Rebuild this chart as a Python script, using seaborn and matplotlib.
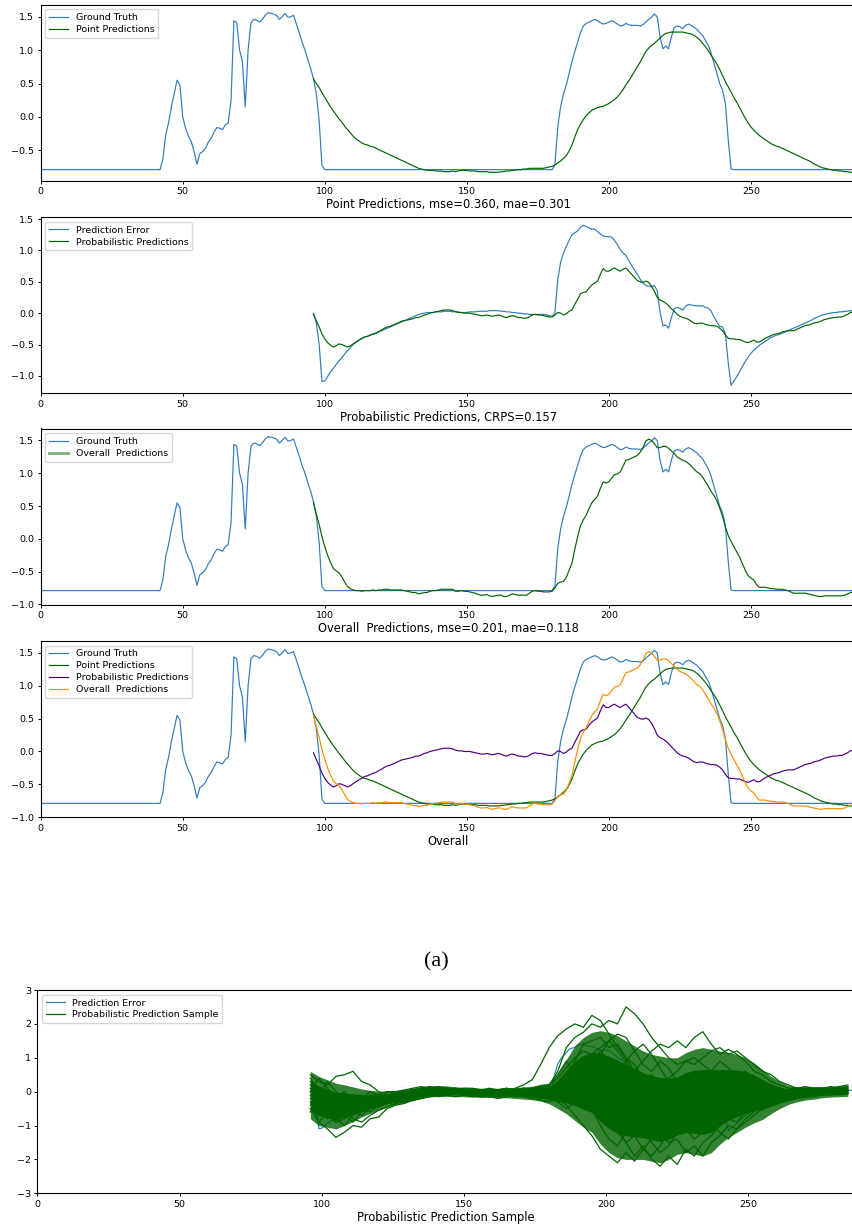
import numpy as np
import pandas as pd
import matplotlib
matplotlib.use("Agg")
import matplotlib.pyplot as plt
import seaborn as sns

# time axis
t_all = np.arange(288)
t_pred = np.arange(96, 288)

# ground truth
ground_truth = ([-0.79] * 43 +
    [-0.63, -0.27, -0.09, 0.15, 0.35, 0.55, 0.48, 0.00, -0.17, -0.29,
     -0.37, -0.52, -0.71, -0.55, -0.52, -0.47, -0.38, -0.32, -0.23, -0.16,
     -0.17, -0.19, -0.12, -0.09, 0.25, 1.44, 1.41, 1.00, 0.83, 0.15,
     1.00, 1.41, 1.46, 1.45, 1.42, 1.46, 1.52, 1.56, 1.55, 1.54,
     1.52, 1.46, 1.50, 1.55, 1.49, 1.50, 1.52, 1.39, 1.26, 1.12,
     1.00, 0.86, 0.73, 0.57, 0.35, -0.05, -0.73, -0.79] +
    [-0.79] * 80 +
    [-0.72, -0.15, 0.15, 0.34, 0.48, 0.65, 0.83, 0.98, 1.12, 1.26,
     1.36, 1.40, 1.42, 1.44, 1.46, 1.44, 1.41, 1.39, 1.40, 1.42,
     1.44, 1.42, 1.39, 1.36, 1.37, 1.40, 1.38, 1.37, 1.37, 1.37,
     1.36, 1.38, 1.42, 1.46, 1.49, 1.54, 1.50, 1.20, 1.02, 1.06,
     1.02, 1.20, 1.34, 1.36, 1.35, 1.32, 1.37, 1.39, 1.37, 1.34,
     1.31, 1.26, 1.22, 1.14, 1.07, 0.95, 0.80, 0.65, 0.50, 0.40,
     0.20, -0.34, -0.78] +
    [-0.79] * 44)

# point predictions, t = 96..287
point_pred = [
    0.57, 0.50, 0.44, 0.36, 0.29, 0.22, 0.15, 0.09, 0.03, -0.03,
    -0.08, -0.14, -0.19, -0.24, -0.29, -0.33, -0.36, -0.39, -0.41, -0.42,
    -0.44, -0.45, -0.47, -0.49, -0.51, -0.53, -0.55, -0.57, -0.59, -0.61,
    -0.63, -0.65, -0.67, -0.69, -0.71, -0.73, -0.75, -0.77, -0.78, -0.79,
    -0.80, -0.80, -0.80, -0.81, -0.81, -0.81, -0.82, -0.82, -0.82, -0.81,
    -0.82, -0.81, -0.80, -0.80, -0.80, -0.81, -0.81, -0.81, -0.82, -0.82,
    -0.82, -0.82, -0.83, -0.83, -0.83, -0.83, -0.82, -0.82, -0.81, -0.81,
    -0.80, -0.80, -0.79, -0.79, -0.78, -0.78, -0.77, -0.77, -0.77, -0.77,
    -0.77, -0.77, -0.76, -0.75, -0.74, -0.72, -0.69, -0.66, -0.62, -0.58,
    -0.51, -0.42, -0.30, -0.19, -0.11, -0.04, 0.02, 0.06, 0.10, 0.12,
    0.14, 0.15, 0.16, 0.18, 0.20, 0.23, 0.26, 0.30, 0.35, 0.41,
    0.48, 0.54, 0.61, 0.68, 0.75, 0.82, 0.90, 0.98, 1.03, 1.07,
    1.10, 1.14, 1.18, 1.22, 1.25, 1.26, 1.27, 1.27, 1.27, 1.27,
    1.27, 1.26, 1.25, 1.24, 1.22, 1.19, 1.15, 1.10, 1.05, 0.99,
    0.92, 0.86, 0.79, 0.71, 0.62, 0.53, 0.45, 0.37, 0.29, 0.22,
    0.14, 0.06, -0.02, -0.09, -0.15, -0.20, -0.24, -0.28, -0.31, -0.34,
    -0.37, -0.40, -0.42, -0.44, -0.45, -0.47, -0.49, -0.51, -0.53, -0.55,
    -0.57, -0.59, -0.61, -0.63, -0.65, -0.67, -0.70, -0.72, -0.74, -0.76,
    -0.77, -0.78, -0.79, -0.80, -0.80, -0.81, -0.81, -0.82, -0.82, -0.83,
    -0.83, -0.84]

# probabilistic predictions of the error, t = 96..287
prob_pred = [
    -0.02, -0.12, -0.22, -0.33, -0.41, -0.47, -0.51, -0.54, -0.52, -0.49,
    -0.50, -0.52, -0.54, -0.52, -0.49, -0.46, -0.43, -0.41, -0.38, -0.37,
    -0.35, -0.33, -0.32, -0.29, -0.27, -0.24, -0.22, -0.21, -0.19, -0.17,
    -0.15, -0.13, -0.12, -0.11, -0.10, -0.09, -0.07, -0.07, -0.05, -0.03,
    -0.02, 0.00, 0.01, 0.02, 0.03, 0.04, 0.05, 0.05, 0.05, 0.04,
    0.02, 0.01, 0.01, 0.00, 0.00, 0.00, -0.01, -0.02, -0.03, -0.04,
    -0.04, -0.03, -0.04, -0.05, -0.04, -0.03, -0.04, -0.06, -0.07, -0.05,
    -0.04, -0.05, -0.07, -0.07, -0.08, -0.08, -0.06, -0.03, -0.02, -0.03,
    -0.03, -0.04, -0.05, -0.06, -0.06, -0.03, 0.01, 0.00, -0.03, -0.01,
    0.03, 0.05, 0.14, 0.22, 0.31, 0.33, 0.34, 0.40, 0.45, 0.48,
    0.51, 0.62, 0.71, 0.67, 0.67, 0.70, 0.72, 0.69, 0.67, 0.70,
    0.72, 0.67, 0.62, 0.57, 0.52, 0.50, 0.49, 0.51, 0.49, 0.43,
    0.35, 0.25, 0.21, 0.19, 0.16, 0.12, 0.07, 0.03, -0.02, -0.05,
    -0.07, -0.08, -0.10, -0.13, -0.16, -0.17, -0.16, -0.16, -0.18, -0.19,
    -0.20, -0.20, -0.21, -0.24, -0.28, -0.35, -0.40, -0.41, -0.41, -0.42,
    -0.42, -0.44, -0.46, -0.47, -0.45, -0.43, -0.46, -0.46, -0.43, -0.40,
    -0.38, -0.36, -0.34, -0.33, -0.32, -0.30, -0.29, -0.28, -0.28, -0.28,
    -0.26, -0.24, -0.22, -0.20, -0.19, -0.18, -0.16, -0.15, -0.14, -0.12,
    -0.10, -0.09, -0.08, -0.07, -0.07, -0.06, -0.06, -0.04, -0.02, 0.01,
    0.02, 0.03]

# probabilistic samples, t = 96, 99, ..., 285
sample_t = np.arange(96, 286, 3)
band_lo = [
    -0.80, -1.00, -1.05, -1.10, -1.00, -0.88, -0.75, -0.64, -0.55, -0.45,
    -0.38, -0.32, -0.27, -0.20, -0.16, -0.14, -0.14, -0.15, -0.15, -0.16,
    -0.17, -0.17, -0.18, -0.18, -0.20, -0.22, -0.24, -0.28, -0.36, -0.50,
    -0.65, -0.85, -1.05, -1.20, -1.55, -1.80, -1.95, -2.00, -2.00, -2.00,
    -2.05, -2.10, -2.00, -1.85, -1.80, -1.85, -1.90, -1.80, -1.55, -1.35,
    -1.20, -1.05, -0.92, -0.82, -0.65, -0.50, -0.38, -0.30, -0.25, -0.22,
    -0.18, -0.16, -0.15, -0.14]
band_hi = [
    0.60, 0.45, 0.35, 0.25, 0.20, 0.14, 0.08, 0.04, 0.02, 0.02,
    0.03, 0.06, 0.10, 0.15, 0.17, 0.18, 0.17, 0.14, 0.13, 0.12,
    0.10, 0.10, 0.10, 0.12, 0.12, 0.14, 0.16, 0.22, 0.25, 0.55,
    0.95, 1.35, 1.60, 1.75, 1.80, 1.75, 1.65, 1.50, 1.35, 1.20,
    1.10, 1.05, 1.00, 1.00, 1.15, 1.25, 1.30, 1.25, 1.20, 1.15,
    1.10, 1.00, 0.85, 0.65, 0.45, 0.30, 0.18, 0.15, 0.15, 0.15,
    0.15, 0.15, 0.17, 0.18]

sample_01 = [0.2, -0.1, 0.3, 0.0, -0.2, -0.1, -0.2, -0.1, -0.1, 0.0,
             -0.05, 0.0, 0.05, 0.1, 0.05, 0.1, 0.05, 0.0, 0.05, 0.0,
             -0.05, 0.0, -0.05, 0.0, 0.05, 0.0, 0.1, 0.15, 0.2, 0.6,
             1.3, 1.6, 1.75, 2.0, 1.9, 2.1, 2.0, 2.5, 2.3, 2.0,
             1.6, 1.3, 1.0, 0.8, 0.9, 1.0, 0.8, 0.6, 0.5, 0.4,
             0.3, 0.2, 0.1, 0.1, 0.05, 0.0, -0.05, 0.0, 0.05, 0.0,
             0.05, 0.1, 0.05, 0.1]
sample_02 = [-0.2, -0.5, -0.8, -0.6, -0.4, -0.5, -0.3, -0.35, -0.2, -0.25,
             -0.15, -0.1, -0.05, 0.0, 0.05, 0.1, 0.05, 0.05, 0.0, -0.05,
             -0.05, 0.0, 0.05, 0.0, 0.1, 0.2, 0.35, 0.8, 1.3, 1.65,
             1.85, 2.0, 1.9, 2.25, 2.1, 1.7, 1.3, 1.0, 0.6, 0.3,
             0.0, -0.3, -0.5, -0.3, -0.1, 0.1, 0.2, 0.1, -0.1, -0.2,
             -0.3, -0.2, -0.15, -0.1, -0.05, 0.0, 0.05, 0.0, -0.05, 0.0,
             0.0, 0.05, 0.1, 0.05]
sample_03 = [-0.3, -0.9, -1.1, -1.35, -1.2, -1.0, -1.05, -0.8, -0.75, -0.5,
             -0.4, -0.35, -0.25, -0.2, -0.1, -0.12, -0.1, -0.08, -0.1, -0.12,
             -0.15, -0.1, -0.12, -0.1, -0.15, -0.12, -0.1, -0.05, 0.0, 0.1,
             0.3, 0.5, 0.6, 0.3, -0.2, -0.7, -1.2, -1.5, -1.9, -1.6,
             -2.0, -2.2, -1.9, -2.15, -1.7, -1.9, -1.5, -1.3, -1.0, -0.8,
             -0.7, -0.6, -0.55, -0.4, -0.3, -0.2, -0.1, -0.05, -0.05, 0.0,
             -0.05, 0.0, 0.05, 0.0]
sample_04 = [0.5, 0.3, 0.2, 0.45, 0.5, 0.6, 0.3, 0.2, 0.0, -0.1,
             -0.15, -0.1, -0.05, 0.05, 0.1, 0.1, 0.05, 0.0, 0.0, 0.05,
             0.0, -0.05, 0.0, 0.05, 0.0, 0.05, 0.1, 0.1, 0.15, 0.1,
             0.0, -0.2, -0.4, -0.6, -0.8, -0.5, -0.2, 0.2, 0.6, 0.9,
             1.2, 1.4, 1.3, 1.5, 1.3, 1.6, 1.77, 1.4, 1.1, 1.25,
             1.1, 0.9, 0.6, 0.5, 0.3, 0.2, 0.1, 0.05, 0.1, 0.05,
             0.1, 0.05, 0.1, 0.15]
sample_05 = [-0.1, -0.6, -0.7, -0.9, -0.8, -0.6, -0.7, -0.5, -0.45, -0.35,
             -0.3, -0.25, -0.2, -0.1, -0.05, -0.05, 0.0, -0.05, -0.1, -0.05,
             -0.1, -0.05, -0.1, -0.12, -0.1, -0.15, -0.2, -0.25, -0.3, -0.2,
             -0.4, -0.7, -1.0, -1.3, -1.7, -1.9, -2.1, -1.8, -2.05, -1.7,
             -1.4, -1.0, -0.6, -0.3, -0.5, -0.7, -0.9, -1.2, -1.0, -0.8,
             -0.9, -0.6, -0.5, -0.35, -0.25, -0.3, -0.2, -0.15, -0.1, -0.1,
             -0.05, -0.1, 0.0, -0.05]
sample_06 = [0.3, 0.1, -0.2, -0.3, -0.2, -0.4, -0.3, -0.2, -0.25, -0.15,
             -0.1, -0.05, 0.0, 0.05, 0.1, 0.05, 0.1, 0.05, 0.05, 0.0,
             0.0, 0.05, 0.0, 0.0, -0.05, 0.0, 0.05, 0.15, 0.2, 0.4,
             0.7, 1.0, 1.2, 1.1, 1.3, 1.5, 1.2, 0.9, 0.5, 0.3,
             0.1, 0.2, 0.4, 0.6, 0.9, 0.8, 1.0, 1.2, 1.3, 1.1,
             1.2, 1.0, 0.8, 0.6, 0.5, 0.3, 0.2, 0.1, 0.15, 0.1,
             0.05, 0.1, 0.15, 0.2]
sample_07 = [-0.4, -0.2, 0.0, -0.4, -0.7, -0.9, -0.6, -0.5, -0.3, -0.35,
             -0.2, -0.15, -0.1, -0.05, -0.1, -0.05, -0.05, 0.0, -0.05, -0.1,
             -0.1, -0.15, -0.1, -0.05, -0.1, -0.05, -0.15, -0.1, -0.2, -0.1,
             0.2, 0.5, 0.8, 0.9, 0.6, 0.2, -0.3, -0.6, -0.9, -1.1,
             -0.8, -1.2, -1.5, -1.4, -1.8, -1.6, -1.9, -1.5, -1.3, -1.0,
             -1.1, -0.9, -0.7, -0.5, -0.4, -0.25, -0.2, -0.1, -0.15, -0.1,
             -0.1, -0.05, -0.1, -0.05]
sample_08 = [0.1, -0.3, -0.5, -0.2, 0.0, -0.3, -0.5, -0.3, -0.2, -0.1,
             -0.05, -0.1, 0.0, 0.1, 0.15, 0.1, 0.05, 0.1, 0.05, 0.0,
             0.05, 0.0, 0.05, 0.1, 0.05, 0.1, 0.05, 0.0, 0.1, 0.2,
             0.5, 0.9, 1.4, 1.5, 1.6, 1.3, 1.4, 1.0, 0.8, 0.4,
             0.5, 0.2, 0.0, 0.3, 0.5, 0.2, -0.2, -0.5, -0.8, -0.6,
             -0.4, -0.6, -0.3, -0.2, -0.1, -0.05, 0.0, 0.05, 0.0, 0.05,
             0.0, 0.05, 0.0, 0.1]
sample_09 = [-0.5, -0.9, -0.6, -0.8, -1.0, -0.7, -0.5, -0.6, -0.4, -0.3,
             -0.25, -0.3, -0.2, -0.15, -0.1, -0.15, -0.1, -0.05, -0.1, -0.15,
             -0.1, -0.15, -0.2, -0.15, -0.1, -0.15, -0.1, -0.2, -0.15, -0.3,
             -0.5, -0.3, 0.2, 0.6, 1.1, 1.5, 1.7, 1.6, 1.2, 0.8,
             0.6, 0.9, 0.7, 0.3, -0.1, -0.4, -0.2, 0.2, 0.4, 0.0,
             -0.3, -0.5, -0.4, -0.3, -0.2, -0.1, -0.15, -0.1, -0.05, -0.1,
             -0.05, 0.0, -0.05, 0.0]
sample_10 = [0.0, 0.4, 0.1, -0.2, -0.5, -0.3, -0.1, -0.3, -0.15, -0.2,
             -0.1, 0.0, 0.05, 0.0, 0.1, 0.05, 0.1, 0.1, 0.05, 0.05,
             0.0, 0.05, 0.05, 0.0, 0.05, 0.1, 0.0, 0.05, 0.2, 0.5,
             0.9, 0.5, 0.0, -0.5, -1.0, -1.4, -1.6, -1.2, -0.8, -1.2,
             -1.5, -1.8, -1.6, -1.2, -0.8, -0.4, -0.6, -0.9, -1.2, -1.4,
             -1.1, -0.8, -0.6, -0.4, -0.35, -0.2, -0.1, -0.05, 0.0, -0.05,
             0.0, 0.05, 0.1, 0.05]
sample_11 = [-0.6, -0.1, -0.4, -0.6, -0.3, -0.1, -0.2, 0.0, -0.1, 0.0,
             0.0, 0.05, 0.1, 0.15, 0.1, 0.15, 0.1, 0.05, 0.1, 0.1,
             0.05, 0.1, 0.05, 0.1, 0.05, 0.0, 0.05, 0.1, 0.0, -0.1,
             -0.2, 0.1, 0.4, 0.8, 1.2, 0.9, 0.6, 0.9, 1.2, 1.4,
             1.1, 0.7, 0.3, 0.0, -0.3, -0.1, 0.3, 0.6, 0.9, 0.7,
             0.5, 0.6, 0.4, 0.2, 0.1, 0.0, 0.05, 0.1, 0.05, 0.1,
             0.1, 0.15, 0.1, 0.15]
sample_12 = [0.4, 0.0, -0.6, -0.9, -0.6, -0.8, -0.9, -0.7, -0.55, -0.45,
             -0.35, -0.3, -0.25, -0.2, -0.15, -0.1, -0.1, -0.15, -0.1, -0.1,
             -0.15, -0.1, -0.15, -0.1, -0.05, -0.1, -0.15, -0.2, -0.1, 0.0,
             0.3, 0.7, 0.4, 0.0, -0.4, -0.8, -1.1, -1.5, -1.3, -1.7,
             -1.9, -1.6, -1.2, -0.9, -1.1, -1.4, -1.2, -0.8, -0.5, -0.7,
             -0.5, -0.3, -0.2, -0.3, -0.2, -0.1, -0.05, -0.1, 0.0, -0.05,
             0.0, -0.05, 0.05, 0.0]

samples = [sample_01, sample_02, sample_03, sample_04, sample_05, sample_06,
           sample_07, sample_08, sample_09, sample_10, sample_11, sample_12]

gt = np.array(ground_truth)
pp = np.array(point_pred)
pr = np.array(prob_pred)
err = gt[96:] - pp          # prediction error of the point model
overall = pp + pr           # point + probabilistic

BLUE = "#2f7bbf"
GREEN = "darkgreen"
PURPLE = "indigo"
ORANGE = "darkorange"
LW = 0.85
TICK_FS = 6.8
LABEL_FS = 8.3

W, H = 852, 1230
fig = plt.figure(figsize=(W / 100, H / 100), dpi=100)


def make_ax(left, top, bottom, unit_px):
    # pixel box -> figure fraction; axes run a bit past the right edge
    width = 287 * unit_px
    return fig.add_axes([left / W, 1 - bottom / H, width / W, (bottom - top) / H])


def style(ax, xlabel, handles=None, labels=None):
    ax.set_xlim(0, 287)
    ax.set_xlabel(xlabel, fontsize=LABEL_FS, labelpad=1.5)
    ax.tick_params(labelsize=TICK_FS, length=2.4, pad=2.2, width=0.7)
    for s in ax.spines.values():
        s.set_linewidth(0.8)
    if handles is None:
        handles, labels = ax.get_legend_handles_labels()
    leg = ax.legend(handles, labels, loc="upper left", fontsize=TICK_FS,
                    handlelength=2.0, borderpad=0.4, labelspacing=0.3)
    return leg


# (1) point predictions
ax1 = make_ax(40.7, 4.7, 181.0, 2.841)
sns.lineplot(x=t_all, y=gt, ax=ax1, color=BLUE, lw=LW, label="Ground Truth")
sns.lineplot(x=t_pred, y=pp, ax=ax1, color=GREEN, lw=LW, label="Point Predictions")
style(ax1, "Point Predictions, mse=0.360, mae=0.301")

# (2) probabilistic predictions of the error
ax2 = make_ax(40.7, 217.3, 393.3, 2.841)
sns.lineplot(x=t_pred, y=err, ax=ax2, color=BLUE, lw=LW, label="Prediction Error")
sns.lineplot(x=t_pred, y=pr, ax=ax2, color=GREEN, lw=LW, label="Probabilistic Predictions")
style(ax2, "Probabilistic Predictions, CRPS=0.157")

# (3) overall predictions
ax3 = make_ax(40.7, 428.5, 604.5, 2.841)
sns.lineplot(x=t_all, y=gt, ax=ax3, color=BLUE, lw=LW, label="Ground Truth")
sns.lineplot(x=t_pred, y=overall, ax=ax3, color=GREEN, lw=LW, label="Overall  Predictions")
leg3 = style(ax3, "Overall  Predictions, mse=0.201, mae=0.118")
leg3.get_lines()[1].set_linewidth(2.0)
leg3.get_lines()[1].set_alpha(0.5)

# (4) all together
ax4 = make_ax(40.7, 641.0, 817.3, 2.841)
sns.lineplot(x=t_all, y=gt, ax=ax4, color=BLUE, lw=LW, label="Ground Truth")
sns.lineplot(x=t_pred, y=pp, ax=ax4, color=GREEN, lw=LW, label="Point Predictions")
sns.lineplot(x=t_pred, y=pr, ax=ax4, color=PURPLE, lw=LW, label="Probabilistic Predictions")
sns.lineplot(x=t_pred, y=overall, ax=ax4, color=ORANGE, lw=LW, label="Overall  Predictions")
style(ax4, "Overall")

fig.text(436.7 / W, 1 - 961.7 / H, "(a)", family="Liberation Serif",
         fontsize=16, ha="center", va="center")

# (5) probabilistic prediction samples
ax5 = make_ax(37.3, 990.0, 1193.3, 2.844)
sns.lineplot(x=t_pred, y=err, ax=ax5, color=BLUE, lw=LW, zorder=1)
lo = np.array(band_lo)
hi = np.array(band_hi)
mid = (lo + hi) / 2
half = (hi - lo) / 2
ax5.fill_between(sample_t, lo, hi, color=GREEN, alpha=0.8, lw=0, zorder=2)
ax5.fill_between(sample_t, mid - 0.6 * half, mid + 0.6 * half,
                 color=GREEN, alpha=1.0, lw=0, zorder=2)
df_s = pd.DataFrame({
    "t": np.tile(sample_t, len(samples)),
    "value": np.concatenate(samples),
    "sample": np.repeat(np.arange(len(samples)), len(sample_t)),
})
sns.lineplot(data=df_s, x="t", y="value", units="sample", estimator=None,
             ax=ax5, color=GREEN, lw=0.9, zorder=3)
ax5.set_ylim(-3, 3)
ax5.set_ylabel("")
h_err = ax5.lines[0]
h_smp = ax5.lines[-1]
style(ax5, "Probabilistic Prediction Sample", [h_err, h_smp],
      ["Prediction Error", "Probabilistic Prediction Sample"])

fig.savefig("out.png", dpi=100)
